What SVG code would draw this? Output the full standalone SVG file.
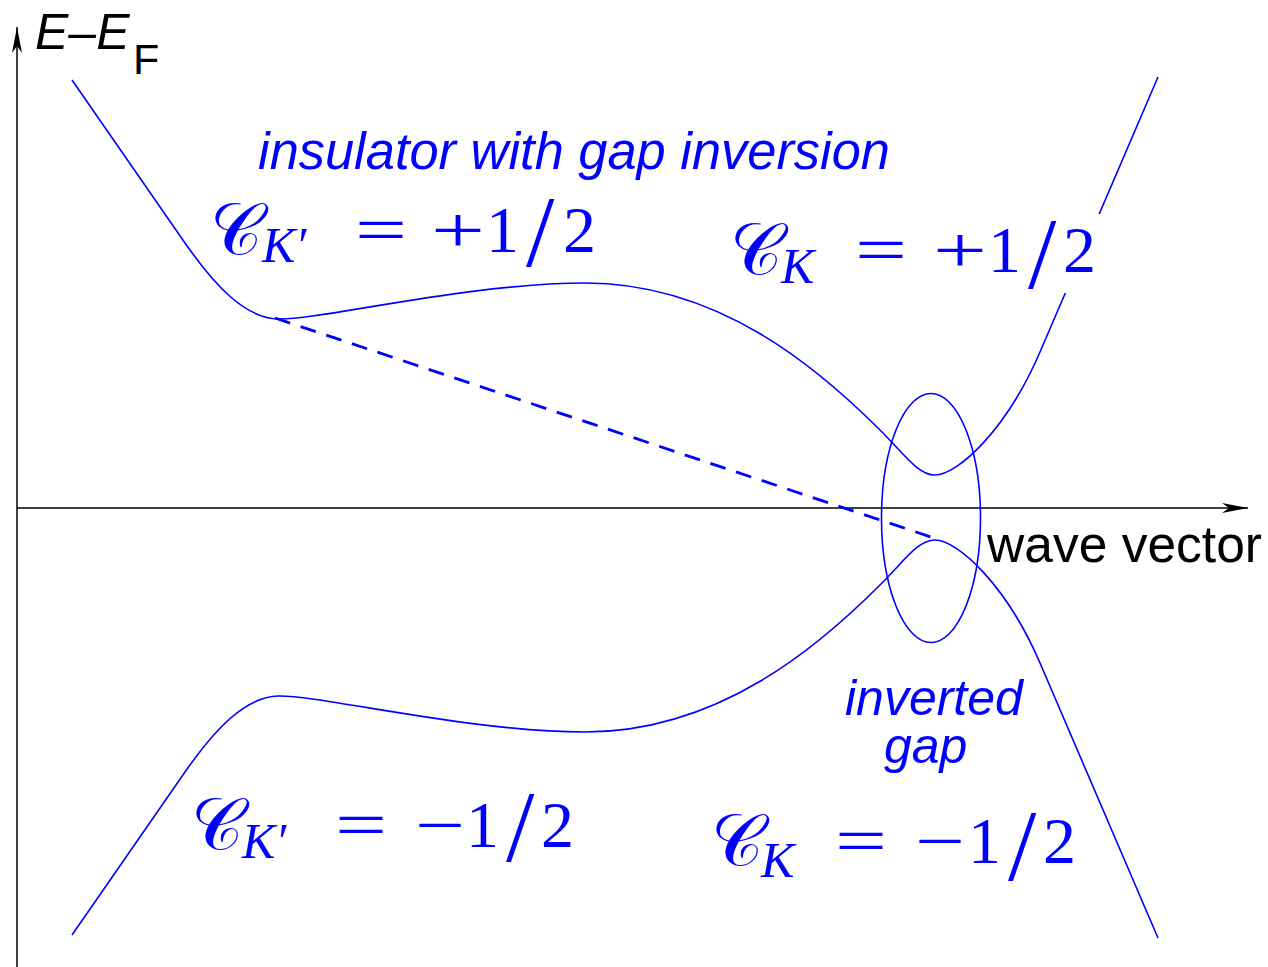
<svg xmlns="http://www.w3.org/2000/svg" width="1268" height="967" viewBox="0 0 1268 967">
<style>
.axis{stroke:#000;stroke-width:1.5;fill:none}
.band{stroke:#0000ff;stroke-width:1.6;fill:none}
.dash{stroke:#0000ff;stroke-width:2.8;fill:none;stroke-dasharray:16 11}
.lbl{font-family:"Liberation Sans",Arial,sans-serif;fill:#000}
.blue{font-family:"Liberation Sans",Arial,sans-serif;font-style:italic;fill:#0000ff}
.cal{font-family:"DejaVu Serif","DejaVu Sans","Liberation Serif",serif;font-size:72px;fill:#0000ff}
.sub{font-family:"Liberation Serif",serif;font-style:italic;font-size:50px;fill:#0000ff}
.m{font-family:"Liberation Serif",serif;font-size:66px;fill:#0000ff}
.sl{font-family:"Liberation Serif",serif;font-size:102px;fill:#0000ff}
</style>
<defs>
<marker id="arr" viewBox="-26 -6 28 12" refX="0" refY="0" markerWidth="28" markerHeight="12" markerUnits="userSpaceOnUse" orient="auto">
<path d="M0,0 L-26,-5 L-19,0 L-26,5 Z" fill="#000"/>
</marker>
</defs>
<rect width="1268" height="967" fill="#fff"/>
<g id="axes">
<line class="axis" x1="17" y1="967" x2="17" y2="27" marker-end="url(#arr)"/>
<line class="axis" x1="17" y1="508" x2="1248" y2="508" marker-end="url(#arr)"/>
</g>
<g id="bands">
<path id="upper" class="band" d="M72,80 L185,243 C215,286 245,318 278,319 C320,320 470,283 585,283 C720,283 820,370 880,430 C905,455 918,475 935,475 C957,475 1006,431 1040,352 L1158,77"/>
<path id="lower" class="band" transform="translate(0,1015) scale(1,-1)" d="M72,80 L185,243 C215,286 245,318 278,319 C320,320 470,283 585,283 C720,283 820,370 880,430 C905,455 918,475 935,475 C957,475 1006,431 1040,352 L1158,77"/>
<line id="dashed" class="dash" x1="275" y1="318" x2="931" y2="537"/>
<ellipse id="gapring" class="band" cx="931" cy="518" rx="49.5" ry="124.5"/>
</g>
<g id="axis-labels">
<text class="lbl" x="35" y="49" font-size="50" font-style="italic">E–E</text>
<text class="lbl" x="133" y="74" font-size="43">F</text>
<text class="lbl" x="987" y="562" font-size="52" textLength="275" lengthAdjust="spacingAndGlyphs">wave vector</text>
</g>
<g id="title">
<text class="blue" x="258" y="169" font-size="51" textLength="632" lengthAdjust="spacingAndGlyphs">insulator with gap inversion</text>
</g>
<g id="inverted-gap">
<text class="blue" x="845" y="715" font-size="50">inverted</text>
<text class="blue" x="884" y="763" font-size="50">gap</text>
</g>
<g id="label-ul">
<text class="cal" x="210" y="254">𝒞</text>
<text class="sub" x="262" y="262">K′</text>
<text class="m" x="355" y="252" textLength="52" lengthAdjust="spacingAndGlyphs">=</text>
<text class="m" x="431" y="252" textLength="54" lengthAdjust="spacingAndGlyphs">+</text>
<text class="m" x="486" y="252">1</text>
<text class="sl" x="526" y="266">/</text>
<text class="m" x="563" y="252">2</text>
</g>
<g id="label-ur">
<rect x="728" y="214" width="374" height="79" fill="#fff"/>
<text class="cal" x="730" y="274">𝒞</text>
<text class="sub" x="781" y="283">K</text>
<text class="m" x="855" y="272" textLength="52" lengthAdjust="spacingAndGlyphs">=</text>
<text class="m" x="933" y="272" textLength="54" lengthAdjust="spacingAndGlyphs">+</text>
<text class="m" x="988" y="272">1</text>
<text class="sl" x="1028" y="288">/</text>
<text class="m" x="1063" y="272">2</text>
</g>
<g id="label-ll">
<text class="cal" x="191" y="849">𝒞</text>
<text class="sub" x="242" y="858">K′</text>
<text class="m" x="335" y="847" textLength="52" lengthAdjust="spacingAndGlyphs">=</text>
<text class="m" x="415" y="847" textLength="50" lengthAdjust="spacingAndGlyphs">−</text>
<text class="m" x="466" y="847">1</text>
<text class="sl" x="506" y="861">/</text>
<text class="m" x="541" y="847">2</text>
</g>
<g id="label-lr">
<text class="cal" x="711" y="865">𝒞</text>
<text class="sub" x="761" y="877">K</text>
<text class="m" x="835" y="863" textLength="52" lengthAdjust="spacingAndGlyphs">=</text>
<text class="m" x="915" y="863" textLength="50" lengthAdjust="spacingAndGlyphs">−</text>
<text class="m" x="968" y="863">1</text>
<text class="sl" x="1008" y="880">/</text>
<text class="m" x="1043" y="863">2</text>
</g>
</svg>
